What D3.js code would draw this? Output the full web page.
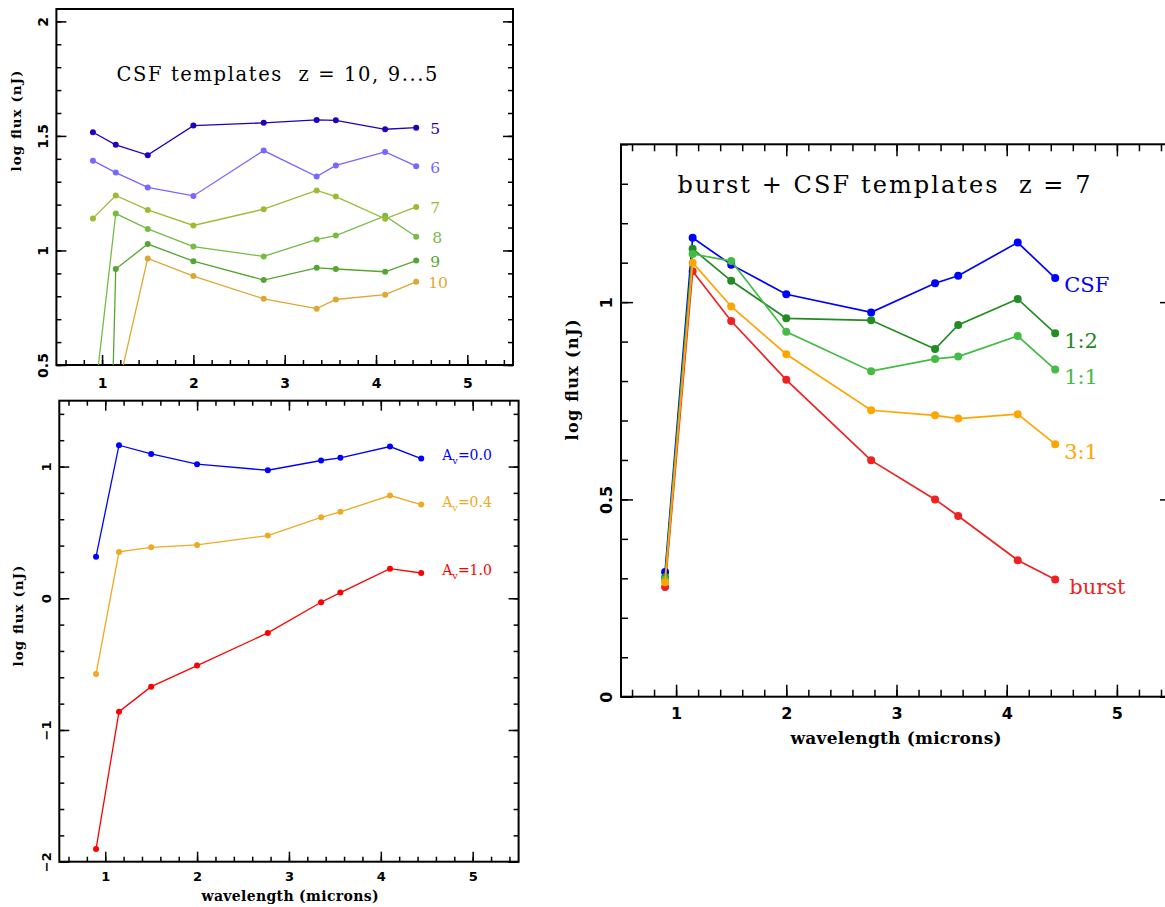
<!DOCTYPE html>
<html>
<head>
<meta charset="utf-8">
<script src="https://cdn.jsdelivr.net/npm/d3@7"></script>
<style>
  body { margin: 0; background: #fff; }
</style>
</head>
<body>
<div id="chart"></div>
<script>

// NIRCam filter wavelengths (microns)
const wavelengths = [0.90, 1.15, 1.50, 2.00, 2.77, 3.35, 3.56, 4.10, 4.44];

// top left: CSF templates, z = 10, 9 ... 5
const csfLabels = ["10", "9", "8", "7", "6", "5"];
const csfColors = ["#dda733", "#55a532", "#77bb44", "#9cbb33", "#7766ff", "#2200bb"];
const csfFlux = [
    [-3.0, 0.356, 0.965, 0.888, 0.789, 0.746, 0.786, 0.807, 0.863],
    [-2.9, 0.919, 1.028, 0.953, 0.871, 0.924, 0.919, 0.907, 0.956],
    [0.29, 1.161, 1.094, 1.017, 0.974, 1.048, 1.065, 1.151, 1.060],
    [1.140, 1.240, 1.177, 1.109, 1.180, 1.262, 1.235, 1.138, 1.190],
    [1.392, 1.340, 1.275, 1.238, 1.436, 1.323, 1.371, 1.430, 1.368],
    [1.516, 1.461, 1.416, 1.545, 1.557, 1.570, 1.568, 1.529, 1.536]
];

// bottom left: CSF with dust, A_v
const dustLabels = ["0.0", "0.4", "1.0"];
const dustColors = ["#0000ff", "#eeaa22", "#ff0000"];
const dustFlux = [
    [0.316, 1.162, 1.096, 1.018, 0.972, 1.046, 1.066, 1.152, 1.061],
    [-0.575, 0.352, 0.387, 0.405, 0.476, 0.615, 0.656, 0.780, 0.711],
    [-1.904, -0.861, -0.671, -0.511, -0.263, -0.030, 0.043, 0.225, 0.192]
];

// right: burst + CSF mixes at z = 7
const mixLabels = ["burst", "CSF", "1:2", "1:1", "3:1"];
const mixColors = ["#ee2222", "#0000ff", "#228b22", "#44bb44", "#ffa500"];
const mixFlux = [
    [0.278, 1.078, 0.952, 0.803, 0.599, 0.500, 0.458, 0.346, 0.297],
    [0.316, 1.163, 1.095, 1.020, 0.974, 1.048, 1.067, 1.151, 1.061],
    [0.303, 1.135, 1.054, 0.959, 0.954, 0.881, 0.942, 1.008, 0.921],
    [0.297, 1.122, 1.104, 0.925, 0.825, 0.856, 0.862, 0.914, 0.829],
    [0.290, 1.100, 0.989, 0.868, 0.726, 0.713, 0.705, 0.716, 0.640]
];

const xTicks = [1, 2, 3, 4, 5];
const xMinorTicks = d3.range(6, 55, 2).map((d) => d / 10);

const width = 1165;
const height = 907;

const svg = d3.select("#chart").append("svg")
    .attr("width", width)
    .attr("height", height)
    .style("display", "block");

const serif = "'DejaVu Serif', serif";
const sans = "'DejaVu Sans', sans-serif";

const drawPanel = (p) => {
    const x = d3.scaleLinear().domain([0.5, 5.5]).range([p.left, p.right]);
    const y = d3.scaleLinear().domain(p.yDomain).range([p.bottom, p.top]);
    const g = svg.append("g").attr("class", p.id);

    g.append("clipPath").attr("id", `clip-${p.id}`)
        .append("rect")
        .attr("x", p.left).attr("y", p.top)
        .attr("width", p.right - p.left).attr("height", p.bottom - p.top);

    const styleAxis = (sel) => {
        sel.select(".domain").remove();
        sel.selectAll(".tick line").attr("stroke", "#000").attr("stroke-width", 1.5);
    };

    const yMinor = d3.range(Math.round(p.yDomain[0] / p.yMinorStep), Math.round(p.yDomain[1] / p.yMinorStep) + 1)
        .map((d) => +(d * p.yMinorStep).toFixed(2))
        .filter((d) => d >= p.yDomain[0] && d <= p.yDomain[1]);

    // bottom axis
    g.append("g").attr("transform", `translate(0,${p.bottom})`)
        .call(d3.axisBottom(x).tickValues(xMinorTicks).tickSize(-p.minorLen).tickFormat(""))
        .call(styleAxis);
    g.append("g").attr("transform", `translate(0,${p.bottom})`)
        .call(d3.axisBottom(x).tickValues(xTicks).tickSize(-p.majorLen).tickPadding(p.xPad).tickFormat(d3.format("d")))
        .call(styleAxis)
        .call((a) => a.selectAll("text")
            .attr("fill", "#000")
            .attr("font-family", sans)
            .attr("font-weight", "bold")
            .attr("font-size", p.tickFont));

    // top axis
    if (p.topTicks) {
        g.append("g").attr("transform", `translate(0,${p.top})`)
            .call(d3.axisTop(x).tickValues(xMinorTicks).tickSize(-p.minorLen).tickFormat(""))
            .call(styleAxis);
        g.append("g").attr("transform", `translate(0,${p.top})`)
            .call(d3.axisTop(x).tickValues(xTicks).tickSize(-p.majorLen).tickFormat(""))
            .call(styleAxis);
    }

    // left axis
    g.append("g").attr("transform", `translate(${p.left},0)`)
        .call(d3.axisLeft(y).tickValues(yMinor).tickSize(-p.minorLen).tickFormat(""))
        .call(styleAxis);
    g.append("g").attr("transform", `translate(${p.left},0)`)
        .call(d3.axisLeft(y).tickValues(p.yTicks).tickSize(-p.majorLen).tickFormat(d3.format("")))
        .call(styleAxis)
        .call((a) => a.selectAll("text")
            .attr("fill", "#000")
            .attr("font-family", sans)
            .attr("font-weight", "bold")
            .attr("font-size", p.tickFont)
            .attr("x", 0)
            .attr("dy", 0)
            .attr("text-anchor", "middle")
            .attr("transform", `translate(${-p.yPad},0) rotate(-90)`));

    // right axis
    g.append("g").attr("transform", `translate(${p.right},0)`)
        .call(d3.axisRight(y).tickValues(yMinor).tickSize(-p.minorLen).tickFormat(""))
        .call(styleAxis);
    g.append("g").attr("transform", `translate(${p.right},0)`)
        .call(d3.axisRight(y).tickValues(p.yTicks).tickSize(-p.majorLen).tickFormat(""))
        .call(styleAxis);

    // frame
    g.append("rect")
        .attr("x", p.left).attr("y", p.top)
        .attr("width", p.right - p.left).attr("height", p.bottom - p.top)
        .attr("fill", "none").attr("stroke", "#000").attr("stroke-width", 2);

    // series
    const line = d3.line().x((d, i) => x(wavelengths[i])).y((d) => y(d));
    const plot = g.append("g").attr("clip-path", `url(#clip-${p.id})`);
    const series = plot.selectAll(".series")
        .data(p.flux.map((v, i) => ({ values: v, color: p.colors[i], label: p.labels[i] })))
        .join("g").attr("class", "series");

    series.append("path")
        .attr("d", (d) => line(d.values))
        .attr("fill", "none")
        .attr("stroke", (d) => d.color)
        .attr("stroke-width", p.lineWidth);

    series.selectAll("circle")
        .data((d) => d.values.map((v, i) => ({ x: wavelengths[i], y: v, color: d.color })))
        .join("circle")
        .attr("cx", (d) => x(d.x))
        .attr("cy", (d) => y(d.y))
        .attr("r", p.dotR)
        .attr("fill", (d) => d.color);

    // series labels, next to the last point
    const last = wavelengths.length - 1;
    g.selectAll(".seriesLabel")
        .data(p.flux.map((v, i) => ({ value: v[last], color: p.colors[i], label: p.labels[i] })))
        .join("text")
        .attr("class", "seriesLabel")
        .attr("x", (d) => x(wavelengths[last]) + p.labelDx + (p.labelExtraDx[d.label] || 0))
        .attr("y", (d) => y(d.value) + p.labelDy)
        .attr("dy", "0.35em")
        .attr("fill", (d) => d.color)
        .attr("font-family", serif)
        .attr("font-size", p.labelFont)
        .each(function (d) { p.labelText(d3.select(this), d.label); });

    // axis titles
    if (p.xTitle) {
        g.append("text")
            .attr("x", p.xTitle.x)
            .attr("y", p.xTitle.y)
            .attr("text-anchor", "middle")
            .attr("font-family", serif)
            .attr("font-weight", "bold")
            .attr("font-size", p.xTitle.size)
            .attr("textLength", p.xTitle.len)
            .attr("lengthAdjust", "spacing")
            .text("wavelength (microns)");
    }
    g.append("text")
        .attr("transform", `translate(${p.yTitle.x},${p.yTitle.y}) rotate(-90)`)
        .attr("text-anchor", "middle")
        .attr("font-family", serif)
        .attr("font-weight", "bold")
        .attr("font-size", p.yTitle.size)
        .attr("textLength", p.yTitle.len)
        .attr("lengthAdjust", "spacing")
        .text("log flux (nJ)");

    if (p.title) {
        g.append("text")
            .attr("x", p.title.x)
            .attr("y", p.title.y)
            .attr("text-anchor", "middle")
            .attr("font-family", serif)
            .attr("font-size", p.title.size)
            .attr("textLength", p.title.len)
            .attr("lengthAdjust", "spacing")
            .style("white-space", "pre")
            .text(p.title.text);
    }
};

const plainLabel = (t, label) => t.text(label);
const avLabel = (t, label) => {
    t.append("tspan").text("A");
    t.append("tspan").attr("dy", 4).attr("font-size", "0.7em").text("v");
    t.append("tspan").attr("dy", -4).text(`=${label}`);
};

drawPanel({
    id: "csf",
    left: 56.4, right: 513, top: 9, bottom: 365,
    yDomain: [0.5, 2.054], yTicks: [0.5, 1, 1.5, 2], yMinorStep: 0.1,
    topTicks: false, majorLen: 10, minorLen: 5,
    xPad: 13, yPad: 8, tickFont: 14,
    flux: csfFlux, colors: csfColors, labels: csfLabels,
    lineWidth: 1.3, dotR: 3,
    labelDx: 14, labelDy: 1, labelExtraDx: { "8": 2, "10": -2 }, labelFont: 15.5, labelText: plainLabel,
    yTitle: { x: 21, y: 121, size: 13.5, len: 101 },
    title: { x: 277, y: 81, size: 19.5, len: 321, text: "CSF templates  z = 10, 9...5" }
});

drawPanel({
    id: "dust",
    left: 59.3, right: 518.6, top: 400.7, bottom: 861.7,
    yDomain: [-2, 1.5], yTicks: [-2, -1, 0, 1], yMinorStep: 0.2,
    topTicks: true, majorLen: 10, minorLen: 5,
    xPad: 10, yPad: 8, tickFont: 13,
    flux: dustFlux, colors: dustColors, labels: dustLabels,
    lineWidth: 1.3, dotR: 3,
    labelDx: 21, labelDy: -3, labelExtraDx: {}, labelFont: 14, labelText: avLabel,
    xTitle: { x: 290, y: 901, size: 14, len: 177 },
    yTitle: { x: 23, y: 616, size: 13.5, len: 101 }
});

drawPanel({
    id: "mix",
    left: 621, right: 1172, top: 144.3, bottom: 696.7,
    yDomain: [0, 1.4], yTicks: [0, 0.5, 1], yMinorStep: 0.1,
    topTicks: true, majorLen: 12, minorLen: 7,
    xPad: 11, yPad: 9, tickFont: 16,
    flux: mixFlux, colors: mixColors, labels: mixLabels,
    lineWidth: 1.7, dotR: 4,
    labelDx: 9, labelDy: 7, labelExtraDx: { "burst": 5 }, labelFont: 21, labelText: plainLabel,
    xTitle: { x: 896, y: 744, size: 17, len: 211 },
    yTitle: { x: 578, y: 380, size: 16, len: 121 },
    title: { x: 884, y: 193, size: 24, len: 413, text: "burst + CSF templates  z = 7" }
});

</script>
</body>
</html>
